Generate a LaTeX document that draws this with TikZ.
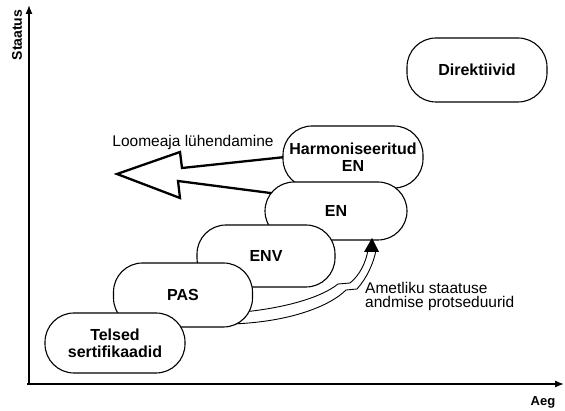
\documentclass[tikz,border=0pt]{standalone}
\usepackage{fontspec}
\setmainfont{Liberation Sans}
\usetikzlibrary{arrows.meta}
\begin{document}
\begin{tikzpicture}[x=1pt,y=-1pt,
  box/.style={draw, line width=1.1pt, fill=white, rounded corners=29pt,
    minimum width=140pt, minimum height=60pt, inner sep=0pt, align=center,
    font=\fontsize{16}{17}\selectfont\bfseries},
  axis/.style={line width=1.3pt, -{Latex[length=9pt,width=7pt]}},
  lbl/.style={inner sep=0pt, font=\fontsize{15.5}{14.5}\selectfont},
  thin line/.style={line width=0.9pt}]
\useasboundingbox (0,0) rectangle (565,411);

% axes
\coordinate (O) at (29,384);
\coordinate (Ytop) at (29,5);
\coordinate (Xend) at (564,384);
\draw[axis] (O) -- (Ytop);
\draw[axis] (27,384) -- (Xend);
\node[inner sep=0pt, rotate=90, font=\fontsize{14}{14}\selectfont\bfseries] (ylab) at (17,35) {Staatus};
\node[inner sep=0pt, font=\fontsize{13}{13}\selectfont\bfseries] (xlab) at (543,402) {Aeg};

% Direktiivid
\node[box, minimum height=64pt] (dir) at (477,70) {Direktiivid};

% big hollow arrow
\coordinate (a1) at (290,156.5);
\coordinate (a2) at (182,168);
\coordinate (a3) at (180,152);
\coordinate (tip) at (117,174);
\coordinate (a5) at (180,198);
\coordinate (a6) at (178,181);
\coordinate (a7) at (278,194);
\draw[line width=2.3pt, line join=miter, miter limit=10] (a1) -- (a2) -- (a3) -- (tip) -- (a5) -- (a6) -- (a7);
\node[lbl] (loome) at (193,142) {Loomeaja lühendamine};

% boxes (back to front)
\node[box, minimum height=62pt] (harm) at (353,157) {Harmoniseeritud\\EN};
\node[box, minimum width=142pt, minimum height=58pt] (en) at (336,211) {EN};
\node[box, minimum width=138pt, minimum height=62pt] (env) at (266,256) {ENV};

% curved procedure arrow
\coordinate (c1) at (232,313);
\coordinate (c2) at (338,284);
\coordinate (c3) at (350,283);
\coordinate (c4) at (368,250);
\coordinate (d1) at (232,324);
\coordinate (d2) at (346,290);
\coordinate (d3) at (357,289);
\coordinate (d4) at (376,250);
\coordinate (ctip) at (372,238);
\draw[thin line] (c1) .. controls (285,309) and (322,297) .. (c2) -- (c3) .. controls (360,275) and (366,262) .. (c4);
\draw[thin line] (d1) .. controls (290,322) and (330,306) .. (d2) -- (d3) .. controls (367,278) and (374,262) .. (d4);
\fill (364,252) -- (ctip) -- (379,252) -- cycle;
\node[lbl, align=left, anchor=north west] (amet) at (365,282) {Ametliku staatuse\\andmise protseduurid};

\node[box, minimum width=139pt, minimum height=64pt] (pas) at (183,295) {PAS};
\node[box, minimum height=60pt] (tel) at (115,343) {Telsed\\sertifikaadid};
\end{tikzpicture}
\end{document}
